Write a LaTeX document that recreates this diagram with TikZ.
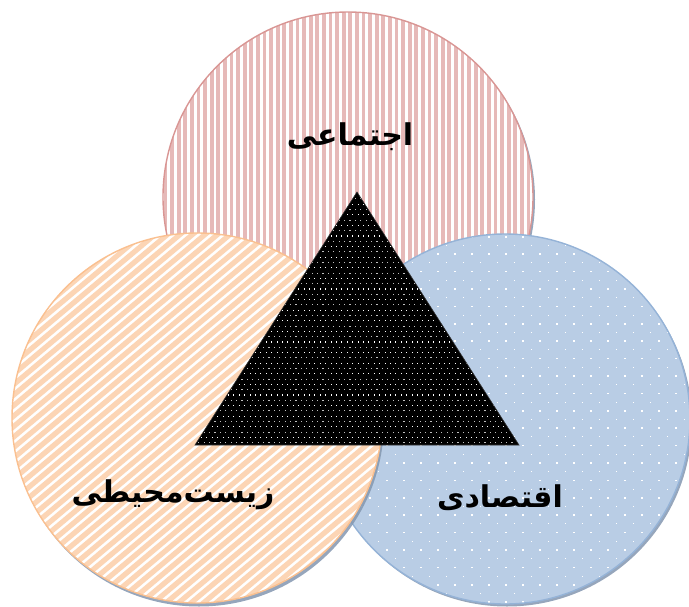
\documentclass[tikz,border=0pt]{standalone}
\usepackage{fontspec}
\TeXXeTstate=1
\newfontfamily\arabicfont[Script=Arabic]{DejaVu Sans}
\definecolor{pinkline}{HTML}{D99694}
\definecolor{pinkfill}{HTML}{E6B9B8}
\definecolor{orgline}{HTML}{FAC090}
\definecolor{orgfill}{HTML}{FCD5B5}
\definecolor{blueline}{HTML}{95B3D7}
\definecolor{bluefill}{HTML}{B9CDE5}
\definecolor{shadowc}{HTML}{8497B0}
\tikzset{
  disc/.style={circle, inner sep=0pt, minimum size=370pt, line width=1.4pt},
  shadowdisc/.style={circle, inner sep=0pt, minimum size=370pt, fill=shadowc, opacity=0.85},
  label/.style={font=\arabicfont\bfseries\fontsize{30}{36}\selectfont, text=black, inner sep=0pt},
  tri/.style={draw=black!80, line width=0.6pt}
}
\begin{document}
\begin{tikzpicture}[x=1pt, y=-1pt]
\useasboundingbox (0,0) rectangle (689,606);
% social (top) circle
\node[shadowdisc] (socsh) at (350,199.5) {};
\begin{scope}
  \path[clip] (348,197) circle[radius=185];
  \fill[white] (160,8) rectangle (540,386);
  \foreach \i in {0,...,57} \fill[pinkfill] ({163.5+\i*6.6},8) rectangle ++(3.9,380);
\end{scope}
\node[disc, draw=pinkline] (soc) at (348,197) {};
% economic (right) circle
\node[shadowdisc] (ecosh) at (507,421.5) {};
\begin{scope}
  \path[clip] (505,419) circle[radius=185];
  \fill[bluefill] (315,230) rectangle (695,610);
  \foreach \r in {0,...,21} {
    \foreach \c in {0,...,22} {
      \fill[white] ({318+\c*17},{236+\r*17.4}) rectangle ++(1.6,1.6);
      \fill[white] ({326.5+\c*17},{244.9+\r*17.4}) rectangle ++(1.6,0.9);
    }
  }
\end{scope}
\node[disc, draw=blueline] (eco) at (505,419) {};
% environmental (left) circle
\node[shadowdisc] (envsh) at (199,421.5) {};
\begin{scope}
  \path[clip] (197,418) circle[radius=185];
  \fill[white] (8,230) rectangle (386,608);
  \foreach \i in {0,...,75} \draw[orgfill, line width=5.2pt] ({-480+\i*12.5},610) -- ++(-40:{650});
\end{scope}
\node[disc, draw=orgline] (env) at (197,418) {};
% central triangle
\coordinate (apex) at (357,192);
\coordinate (bl) at (195,445);
\coordinate (br) at (519,445);
\begin{scope}
  \path[clip] (apex) -- (bl) -- (br) -- cycle;
  \fill[black] (190,188) rectangle (524,450);
  \foreach \r in {0,...,24} {
    \foreach \c in {0,...,60} {
      \fill[white] ({195.5+\c*5.4},{193+\r*10.6}) rectangle ++(1.1,1.1);
      \fill[white!75!black] ({198.2+\c*5.4},{198.3+\r*10.6}) rectangle ++(1.1,1.1);
    }
  }
\end{scope}
\draw[tri] (apex) -- (bl) -- (br) -- cycle;
% labels
\node[label] (soct) at (350,137) {\beginR اجتماعی\endR};
\node[label] (envt) at (173,495) {\beginR زیست‌محیطی\endR};
\node[label] (ecot) at (500,498) {\beginR اقتصادی\endR};
\end{tikzpicture}
\end{document}
